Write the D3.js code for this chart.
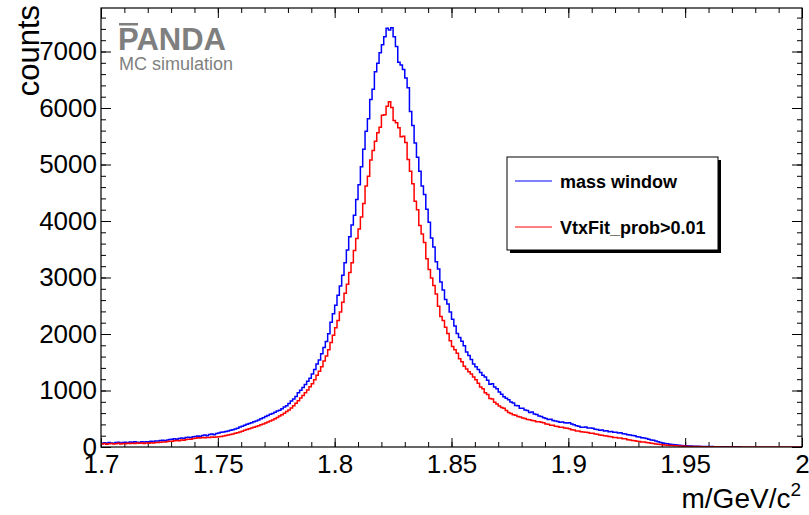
<!DOCTYPE html>
<html lang="en">
<head>
  <meta charset="UTF-8">
  <title>D mass spectrum</title>
  <style>
      body{
          margin:0;
          background:#fff;
      }
      svg{
          display:block;
          font-family:"Liberation Sans", Arial, sans-serif;
      }
      .axis .domain {
          display: none;
      }
  </style>
</head>
<body>
    <svg width="809" height="515"></svg>
    <script src="https://d3js.org/d3.v7.min.js"></script>
    <script>

        // histogram binning (GeV/c^2)
        var binLow = 1.7, binWidth = 0.001;

        var seriesNames = ["mass window", "VtxFit_prob>0.01"];

        // counts per bin, mass window
        var massWindow = [
            62, 75, 68, 80, 71, 66, 78, 84, 73, 79,
            85, 77, 88, 82, 91, 86, 79, 93, 88, 95,
            92, 101, 97, 108, 104, 113, 118, 111, 126, 131,
            138, 146, 135, 152, 160, 149, 167, 171, 163, 182,
            188, 196, 185, 204, 211, 199, 222, 228, 219, 241,
            248, 259, 266, 274, 282, 296, 305, 318, 331, 352,
            368, 385, 402, 416, 431, 448, 462, 479, 501, 517,
            538, 556, 579, 591, 614, 638, 652, 679, 706, 731,
            768, 812, 851, 893, 958, 1004, 1052, 1108, 1162, 1215,
            1290, 1371, 1468, 1539, 1652, 1761, 1869, 2004, 2210, 2360,
            2510, 2688, 2851, 3040, 3262, 3485, 3720, 3930, 4102, 4380,
            4640, 4960, 5270, 5590, 5810, 6150, 6330, 6640, 6790, 6980,
            7120, 7260, 7410, 7380, 7420, 7260, 7090, 6810, 6760, 6680,
            6530, 6360, 5940, 5690, 5380, 5130, 4880, 4620, 4470, 4210,
            3980, 3700, 3540, 3280, 3150, 2920, 2780, 2610, 2530, 2390,
            2260, 2140, 2010, 1940, 1870, 1790, 1680, 1620, 1550, 1470,
            1420, 1370, 1320, 1270, 1240, 1180, 1110, 1120, 1060, 1030,
            975, 932, 889, 861, 838, 796, 779, 735, 728, 688,
            684, 655, 647, 612, 618, 584, 575, 549, 541, 517,
            505, 486, 489, 468, 459, 452, 438, 441, 429, 427,
            431, 406, 395, 377, 366, 351, 350, 354, 338, 336,
            331, 315, 309, 297, 299, 285, 286, 268, 275, 260,
            261, 247, 251, 233, 232, 219, 212, 203, 199, 183,
            176, 165, 158, 150, 138, 126, 118, 104, 92, 80,
            72, 64, 58, 50, 46, 40, 36, 32, 28, 24,
            22, 19, 17, 15, 14, 12, 11, 10, 9, 8,
            7, 7, 6, 6, 5, 5, 4, 4, 4, 3, 3, 3, 2, 2
        ];

        // counts per bin, after vertex fit cut
        var vtxFitCut = [
            52, 61, 48, 57, 63, 55, 59, 66, 54, 62,
            58, 65, 61, 68, 63, 70, 66, 72, 64, 71,
            68, 76, 72, 81, 79, 86, 90, 88, 96, 101,
            103, 109, 115, 112, 124, 120, 133, 139, 135, 151,
            156, 162, 158, 166, 163, 170, 168, 175, 171, 178,
            180, 186, 196, 204, 212, 220, 231, 242, 251, 266,
            280, 295, 308, 322, 336, 349, 362, 378, 393, 408,
            424, 441, 462, 478, 500, 521, 548, 571, 598, 628,
            656, 692, 731, 774, 820, 868, 912, 962, 1010, 1068,
            1120, 1190, 1268, 1342, 1420, 1520, 1610, 1720, 1850, 1980,
            2110, 2240, 2390, 2560, 2720, 2880, 3090, 3260, 3480, 3690,
            3860, 4070, 4310, 4620, 4790, 5080, 5250, 5410, 5560, 5660,
            5870, 5880, 6030, 6110, 6010, 5780, 5740, 5650, 5490, 5500,
            5390, 5090, 4880, 4660, 4350, 4200, 3920, 3770, 3620, 3330,
            3140, 2990, 2860, 2710, 2490, 2310, 2240, 2120, 2010, 1880,
            1780, 1720, 1660, 1560, 1510, 1430, 1380, 1330, 1290, 1240,
            1190, 1130, 1060, 1030, 960, 930, 860, 850, 790, 760,
            724, 697, 684, 646, 612, 593, 571, 563, 541, 533,
            512, 506, 487, 481, 468, 463, 449, 448, 436, 431,
            408, 401, 386, 384, 368, 365, 349, 351, 336, 334,
            325, 307, 299, 285, 284, 270, 266, 259, 256, 245,
            244, 228, 225, 211, 210, 198, 194, 184, 180, 170,
            168, 158, 160, 147, 144, 127, 124, 116, 112, 102,
            97, 89, 88, 78, 76, 68, 63, 54, 50, 43,
            40, 34, 32, 27, 26, 21, 21, 17, 17, 13,
            13, 10, 11, 8, 9, 6, 7, 5, 6, 4,
            4, 3, 4, 2, 3, 2, 2, 1, 2, 1,
            1, 1, 0, 1, 1, 0, 1, 0, 0, 1,
            0, 0, 1, 0, 0, 0, 0, 0, 0, 0,
            0, 0, 0, 0, 0, 0, 0, 0, 0, 0
        ];

        var xTickValues = [1.7, 1.75, 1.8, 1.85, 1.9, 1.95, 2];
        var xTickLabels = ["1.7", "1.75", "1.8", "1.85", "1.9", "1.95", "2"];
        var yTickValues = [0, 1000, 2000, 3000, 4000, 5000, 6000, 7000];

        var svg = d3.select("svg"),
            margin = {top: 8, right: 7, bottom: 68, left: 101},
            width = +svg.attr("width") - margin.left - margin.right,
            height = +svg.attr("height") - margin.top - margin.bottom,
            g = svg.append("g").attr("transform", "translate(" + margin.left + "," + margin.top + ")");

        var x = d3.scaleLinear().domain([1.7, 2.0]).range([0, width]);
        var y = d3.scaleLinear().domain([0, 7770]).range([height, 0]);

        var xMinor = d3.range(0, 31).map(function(i) { return +(1.7 + i * 0.01).toFixed(2); });
        var yMinor = d3.range(0, 39).map(function(i) { return i * 200; });

        function styleAxis(sel) {
            sel.attr("font-family", null).attr("font-size", null);
            sel.selectAll("line").attr("stroke", "#000").attr("stroke-width", 1);
            sel.selectAll("text").attr("fill", "#000").style("font-size", "26px");
        }

        // minor ticks, all four sides, pointing inwards
        g.append("g").attr("class", "axis").attr("transform", "translate(0," + height + ")")
            .call(d3.axisBottom(x).tickValues(xMinor).tickSize(-5).tickFormat("")).call(styleAxis);
        g.append("g").attr("class", "axis")
            .call(d3.axisTop(x).tickValues(xMinor).tickSize(-5).tickFormat("")).call(styleAxis);
        g.append("g").attr("class", "axis")
            .call(d3.axisLeft(y).tickValues(yMinor).tickSize(-5).tickFormat("")).call(styleAxis);
        g.append("g").attr("class", "axis").attr("transform", "translate(" + width + ",0)")
            .call(d3.axisRight(y).tickValues(yMinor).tickSize(-5).tickFormat("")).call(styleAxis);

        // major ticks + labels
        g.append("g").attr("class", "axis").attr("transform", "translate(0," + height + ")")
            .call(d3.axisBottom(x).tickValues(xTickValues).tickSize(-9).tickPadding(8)
                .tickFormat(function(d, i) { return xTickLabels[i]; }))
            .call(styleAxis);
        g.append("g").attr("class", "axis")
            .call(d3.axisTop(x).tickValues(xTickValues).tickSize(-10).tickFormat("")).call(styleAxis);
        g.append("g").attr("class", "axis")
            .call(d3.axisLeft(y).tickValues(yTickValues).tickSize(-10).tickPadding(4)
                .tickFormat(d3.format("d")))
            .call(styleAxis);
        g.append("g").attr("class", "axis").attr("transform", "translate(" + width + ",0)")
            .call(d3.axisRight(y).tickValues(yTickValues).tickSize(-10).tickFormat("")).call(styleAxis);

        g.append("clipPath").attr("id", "frame-clip")
            .append("rect").attr("width", width).attr("height", height);

        function steps(counts) {
            var pts = counts.map(function(c, i) { return [binLow + i * binWidth, c]; });
            pts.push([binLow + counts.length * binWidth, counts[counts.length - 1]]);
            pts.push([binLow + counts.length * binWidth, 0]);
            return pts;
        }

        var line = d3.line()
            .x(function(d) { return x(d[0]); })
            .y(function(d) { return y(d[1]); })
            .curve(d3.curveStepAfter);

        var colors = ["#0000ff", "#ff0000"];
        [massWindow, vtxFitCut].forEach(function(counts, k) {
            g.append("path")
                .attr("clip-path", "url(#frame-clip)")
                .attr("d", line(steps(counts)))
                .attr("fill", "none")
                .attr("stroke", colors[k])
                .attr("stroke-width", 1.5);
        });

        // frame
        g.append("rect")
            .attr("width", width).attr("height", height)
            .attr("fill", "none").attr("stroke", "#000").attr("stroke-width", 1.2);

        // axis titles
        svg.append("text")
            .attr("transform", "translate(39,5) rotate(-90)")
            .attr("text-anchor", "end")
            .style("font-size", "31px")
            .text("counts");

        var xt = svg.append("text")
            .attr("x", 801).attr("y", 508)
            .attr("text-anchor", "end")
            .style("font-size", "28px");
        xt.append("tspan").text("m/GeV/c");
        xt.append("tspan").attr("dy", -12).style("font-size", "19px").text("2");

        // PANDA label
        svg.append("text")
            .attr("x", 118).attr("y", 50)
            .attr("fill", "#7f7f7f")
            .style("font-size", "31px").style("font-weight", "bold")
            .text("PANDA");
        svg.append("rect")
            .attr("x", 119).attr("y", 23).attr("width", 19).attr("height", 2.5)
            .attr("fill", "#7f7f7f");
        svg.append("text")
            .attr("x", 119).attr("y", 70)
            .attr("fill", "#7f7f7f")
            .style("font-size", "18px")
            .text("MC simulation");

        // legend
        var leg = svg.append("g").attr("transform", "translate(507,157)");
        leg.append("rect").attr("x", 3).attr("y", 3).attr("width", 211).attr("height", 93).attr("fill", "#000");
        leg.append("rect").attr("width", 211).attr("height", 93)
            .attr("fill", "#fff").attr("stroke", "#000").attr("stroke-width", 1);
        seriesNames.forEach(function(name, i) {
            var ly = 24 + i * 46;
            leg.append("line")
                .attr("x1", 8).attr("x2", 45).attr("y1", ly).attr("y2", ly)
                .attr("stroke", colors[i]).attr("stroke-width", 1);
            leg.append("text")
                .attr("x", 53).attr("y", ly + 7)
                .style("font-size", "18px").style("font-weight", "bold")
                .text(name);
        });

    </script>
</body>
</html>
